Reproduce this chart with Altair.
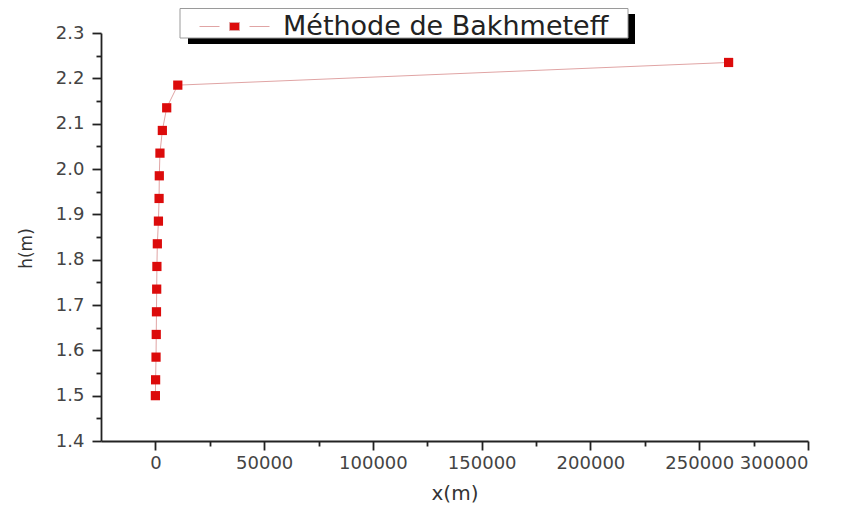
import altair as alt
import pandas as pd

# Data
h_values = [1.5, 1.535, 1.585, 1.635, 1.685, 1.735, 1.785, 1.835, 1.885,
            1.935, 1.985, 2.035, 2.085, 2.135, 2.185, 2.235]
x_values = [0, 100, 300, 400, 500, 600, 700, 900, 1400,
            1700, 1800, 2100, 3200, 5200, 10300, 263500]
series_name = "Méthode de Bakhmeteff"

x_ticks = [i * 25000 for i in range(0, 13)]
y_ticks = [round(1.4 + i * 0.05, 2) for i in range(0, 19)]

df = pd.DataFrame({"x": x_values, "h": h_values, "serie": [series_name] * len(h_values)})

FONT = "DejaVu Sans"
LINE_COLOR = "#e0a4a4"
MARK_COLOR = "#dc0b0b"

x_enc = alt.X(
    "x:Q",
    scale=alt.Scale(domain=[-25000, 300000], nice=False, zero=False),
    axis=alt.Axis(
        title="x(m)",
        values=x_ticks,
        format="d",
        labelExpr="datum.value % 50000 === 0 ? datum.label : ''",
        tickSize={"condition": {"test": "datum.value % 50000 === 0", "value": 9}, "value": 5},
        labelPadding=4,
        titleY=58,
        titleBaseline="alphabetic",
        grid=False,
    ),
)
y_enc = alt.Y(
    "h:Q",
    scale=alt.Scale(domain=[1.4, 2.3], nice=False, zero=False),
    axis=alt.Axis(
        title="h(m)",
        values=y_ticks,
        format=".1f",
        labelExpr="round(datum.value * 100) % 10 === 0 ? datum.label : ''",
        tickSize={"condition": {"test": "round(datum.value * 100) % 10 === 0", "value": 9}, "value": 5},
        labelPadding=8,
        titleX=-70,
        titleY=215,
        titleBaseline="alphabetic",
        titleFontSize=17,
        grid=False,
    ),
)

base = alt.Chart(df)

line = base.mark_line(color=LINE_COLOR, strokeWidth=1).encode(
    x=x_enc, y=y_enc, order=alt.Order("h:Q")
)

points = base.mark_point(shape="square", filled=True, size=85, opacity=1).encode(
    x=x_enc,
    y=y_enc,
    color=alt.Color(
        "serie:N",
        scale=alt.Scale(range=[MARK_COLOR]),
        legend=alt.Legend(
            title=None,
            orient="none",
            legendX=120,
            legendY=-20,
            padding=0,
            symbolType="M-7,0H-3M3,0H7M-1,-0.8H1V0.8H-1Z",
            symbolSize=100,
            symbolStrokeColor=LINE_COLOR,
            symbolStrokeWidth=1,
            symbolFillColor=MARK_COLOR,
            labelFont=FONT,
            labelFontSize=27,
            labelColor="#222222",
            labelOffset=35,
            labelLimit=600,
        ),
    ),
)

one = alt.Data(values=[{"k": 1}])
shadow = alt.Chart(one).mark_rect(color="black").encode(
    x=alt.value(87), x2=alt.value(534), y=alt.value(-19), y2=alt.value(11)
)
box = alt.Chart(one).mark_rect(fill="white", stroke="#9a9a9a", strokeWidth=1).encode(
    x=alt.value(79), x2=alt.value(527), y=alt.value(-24.5), y2=alt.value(5)
)

chart = (
    alt.layer(shadow, box, line, points)
    .properties(
        width=707,
        height=408,
        autosize=alt.AutoSizeParams(type="none"),
        padding={"left": 93, "top": 25, "right": 30, "bottom": 64},
        background="white",
    )
    .configure_view(stroke=None)
    .configure_axis(
        labelFont=FONT,
        labelFontSize=18,
        labelColor="#444444",
        titleFont=FONT,
        titleFontSize=20,
        titleFontWeight="normal",
        titleColor="#333333",
        domainColor="#222222",
        domainWidth=1.8,
        tickColor="#222222",
        tickWidth=1.8,
    )
)

chart.save("out.html", embed_options={"renderer": "svg", "actions": False})
